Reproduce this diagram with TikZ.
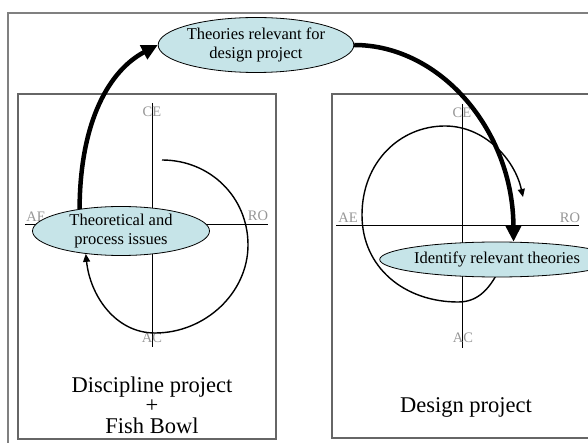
\documentclass[tikz,border=0pt]{standalone}
\usepackage{fontspec}
\setmainfont{Liberation Serif}
\usetikzlibrary{shapes.geometric, arrows.meta}
\definecolor{bubble}{RGB}{198,228,232}
\definecolor{axislbl}{RGB}{150,150,150}

\begin{document}
\begin{tikzpicture}[x=1pt, y=-1pt, thick]
                \tikzstyle{bubble} = [ellipse, draw, fill=bubble, inner sep=0pt, align=center, font=\fontsize{16.5}{19}\selectfont]
                \tikzstyle{lbl} = [text=axislbl, inner sep=0pt, font=\fontsize{14.5}{15}\selectfont]
                \tikzstyle{frame} = [draw=gray!80!black, line width=1.2pt]
                \tikzstyle{axis} = [black, line width=0.9pt]
                \tikzstyle{loop} = [black, line width=1.4pt, -{Triangle[length=8pt, width=7pt]}]
                \tikzstyle{jump} = [black, line width=4.5pt, -{Triangle[length=16pt, width=15pt]}]
                \tikzstyle{caption} = [inner sep=0pt, align=center, font=\fontsize{22.5}{20.5}\selectfont]

                \useasboundingbox (0,0) rectangle (588,443);
                \clip (0,0) rectangle (588,443);

                % Frames (outer, discipline box, design box)
                \draw[frame, draw=gray, line width=1.5pt] (8,13) rectangle (620,470);
                \draw[frame] (18,94) rectangle (276,439);
                \draw[frame] (332,94) rectangle (620,438);

                % Axes, left box
                \draw[axis] (152,103) -- (152,347);
                \draw[axis] (25,224) -- (268,224);
                \node[lbl] (ce1) at (152,112) {CE};
                \node[lbl] (ae1) at (36,217) {AE};
                \node[lbl] (ro1) at (258,216) {RO};
                \node[lbl] (ac1) at (152,338) {AC};

                % Axes, right box
                \draw[axis] (462,104) -- (462,348);
                \draw[axis] (336,225) -- (579,225);
                \node[lbl] (ce2) at (462,113) {CE};
                \node[lbl] (ae2) at (348,218) {AE};
                \node[lbl] (ro2) at (570,218) {RO};
                \node[lbl] (ac2) at (463,338) {AC};

                % Right cycle loop (starts under the bubble)
                \coordinate (ls) at (162,160);
                \coordinate (rs) at (500,268);
                \coordinate (re) at (523,197);
                \draw[loop] (rs) .. controls (488,293) and (475,302) .. (458,302)
                    .. controls (405,302) and (362,268) .. (362,215)
                    .. controls (362,162) and (400,126) .. (445,126)
                    .. controls (485,126) and (515,160) .. (re);

                % Bubbles
                \node[bubble, minimum width=177pt, minimum height=49pt] (tp) at (121,231) {Theoretical and\\process issues};
                \node[bubble, minimum width=182pt, minimum height=55pt] (trd) at (256,45) {Theories relevant for\\design project};
                \node[bubble, minimum width=180pt, minimum height=35pt] (irt) at (497,259.5) {Identify relevant theories};

                % Left cycle loop
                \draw[loop] (ls) .. controls (210,160) and (248,197) .. (248,245)
                    .. controls (248,293) and (205,333) .. (155,333)
                    .. controls (115,333) and (90,295) .. (tp.213);

                % Big jumps between boxes
                \draw[jump] (tp.152) .. controls (80,120) and (110,70) .. (trd.west);
                \draw[jump] (trd.east) .. controls (440,45) and (513,130) .. (irt.47);

                % Captions
                \node[caption] (dp) at (152,405) {Discipline project\\+\\Fish Bowl};
                \node[caption] (dsp) at (466,407) {Design project};
            \end{tikzpicture}
\end{document}
